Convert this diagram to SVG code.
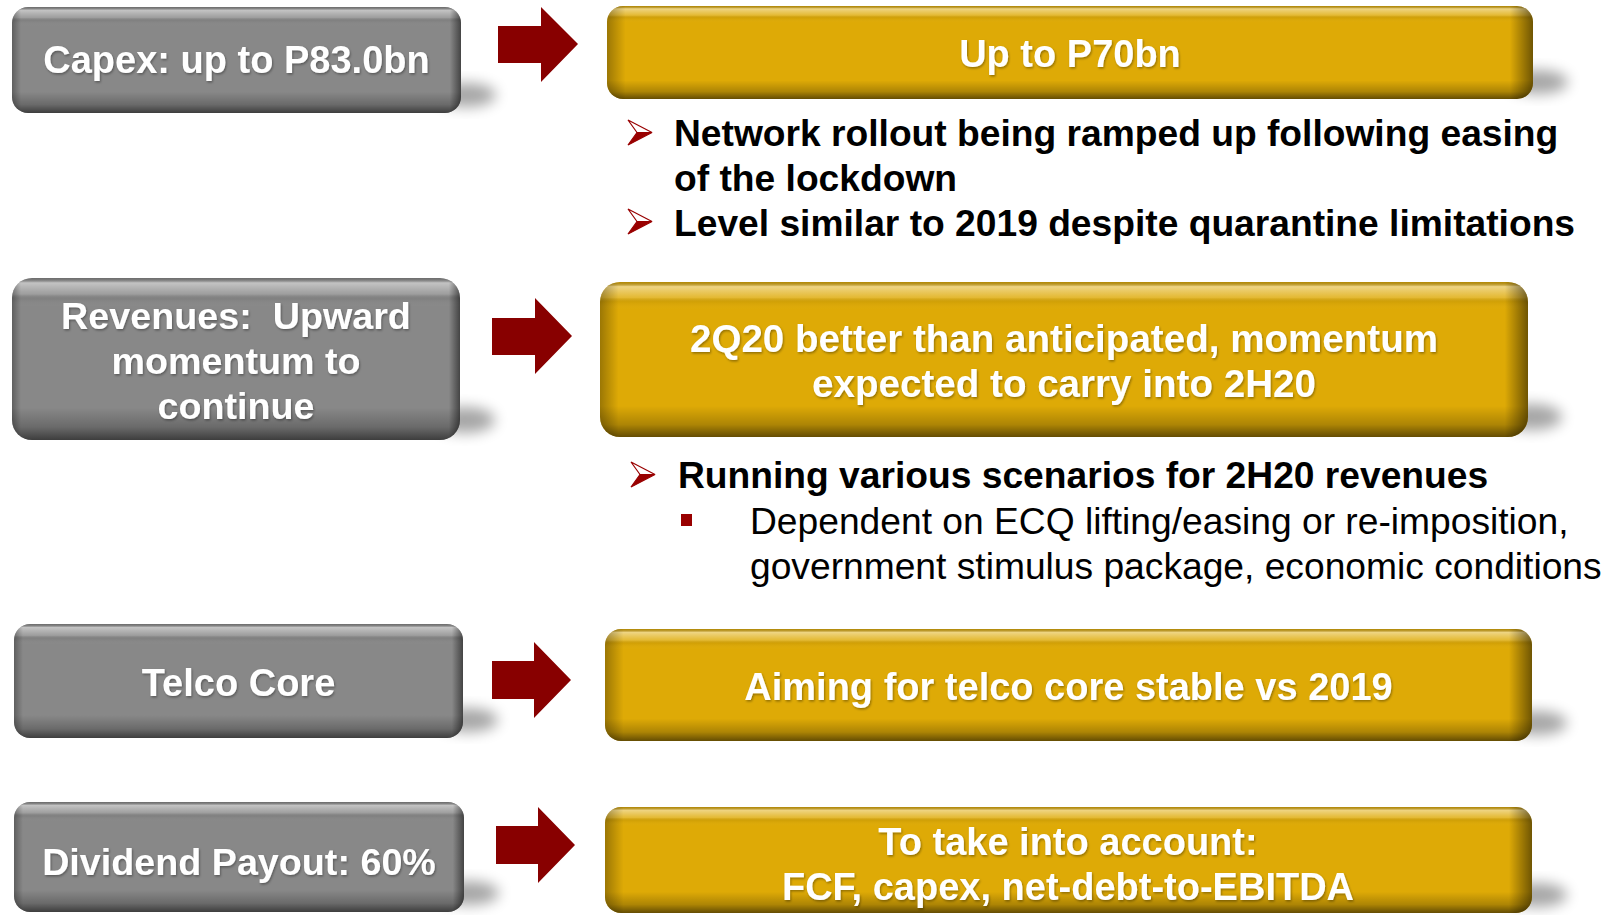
<svg xmlns="http://www.w3.org/2000/svg" width="1608" height="915" viewBox="0 0 1608 915">
<style>
.bx text{font-family:"Liberation Sans",Arial,sans-serif;font-weight:bold;font-size:38px;fill:#fff;text-anchor:middle}
.bx text.big{font-size:38.6px}
.bx text.sm{font-size:37.7px}
.bl{font-family:"Liberation Sans",Arial,sans-serif;font-weight:bold;font-size:37.2px;fill:#000}
.sb{font-family:"Liberation Sans",Arial,sans-serif;font-size:37.2px;fill:#000}
.gray{fill:#888888}
.gold{fill:#DEAA06}
.vbev{fill:url(#vb)}
.hbev{fill:url(#hb)}
.sh{fill:#000;opacity:.35;filter:url(#blur)}
.arr{fill:#880000}
</style>
<defs>
<linearGradient id="vb" x1="0" y1="0" x2="0" y2="1">
<stop offset="0" stop-color="#000" stop-opacity=".18"/>
<stop offset=".03" stop-color="#fff" stop-opacity=".5"/>
<stop offset=".1" stop-color="#fff" stop-opacity=".18"/>
<stop offset=".13" stop-color="#000" stop-opacity=".05"/>
<stop offset=".18" stop-color="#fff" stop-opacity="0"/>
<stop offset=".8" stop-color="#000" stop-opacity="0"/>
<stop offset=".92" stop-color="#000" stop-opacity=".22"/>
<stop offset="1" stop-color="#000" stop-opacity=".55"/>
</linearGradient>
<linearGradient id="hb" x1="0" y1="0" x2="1" y2="0">
<stop offset="0" stop-color="#000" stop-opacity=".3"/>
<stop offset=".02" stop-color="#000" stop-opacity="0"/>
<stop offset=".975" stop-color="#000" stop-opacity="0"/>
<stop offset="1" stop-color="#000" stop-opacity=".5"/>
</linearGradient>
<filter id="blur" x="-50%" y="-50%" width="200%" height="200%"><feGaussianBlur stdDeviation="7"/></filter>
<filter id="ts" x="-5%" y="-20%" width="110%" height="140%"><feDropShadow dx="1" dy="1.5" stdDeviation="1" flood-color="#000" flood-opacity=".35"/></filter>
<g id="barr"><polygon points="0,0 24,12.5 9,12.5" fill="#fff" stroke="#990000" stroke-width="1.2" stroke-linejoin="miter"/><polygon points="9,12.5 24,12.5 0,25" fill="#990000" stroke="#990000" stroke-width="1.2"/></g>
</defs>
<rect width="1608" height="915" fill="#fff"/>

<g id="connectors">
<polygon class="arr" points="498,26 541,26 541,7 578,44 541,82 541,63 498,63"/>
<polygon class="arr" points="492,318 535,318 535,298 572,336 535,374 535,355 492,355"/>
<polygon class="arr" points="492,661 534,661 534,642 571,680 534,718 534,699 492,699"/>
<polygon class="arr" points="496,826 538,826 538,807 575,845 538,883 538,864 496,864"/>
</g>

<g id="capex" class="bx">
<ellipse class="sh" cx="466" cy="95" rx="30" ry="12"/>
<rect class="gray" x="12" y="7" width="449" height="106" rx="16"/>
<rect class="vbev" x="12" y="7" width="449" height="106" rx="16"/>
<rect class="hbev" x="12" y="7" width="449" height="106" rx="16"/>
<text x="236.5" y="73" filter="url(#ts)">Capex: up to P83.0bn</text>
</g>

<g id="capex-target" class="bx">
<ellipse class="sh" cx="1538" cy="82" rx="30" ry="12"/>
<rect class="gold" x="607" y="6" width="926" height="93" rx="16"/>
<rect class="vbev" x="607" y="6" width="926" height="93" rx="16"/>
<rect class="hbev" x="607" y="6" width="926" height="93" rx="16"/>
<text x="1070" y="67" filter="url(#ts)">Up to P70bn</text>
</g>

<g id="capex-notes">
<use href="#barr" x="628" y="120"/>
<text class="bl" x="674" y="146">Network rollout being ramped up following easing</text>
<text class="bl" x="674" y="191">of the lockdown</text>
<use href="#barr" x="628" y="209"/>
<text class="bl" x="674" y="236">Level similar to 2019 despite quarantine limitations</text>
</g>

<g id="revenues" class="bx">
<ellipse class="sh" cx="465" cy="420" rx="30" ry="13"/>
<rect class="gray" x="12" y="278" width="448" height="162" rx="20"/>
<rect class="vbev" x="12" y="278" width="448" height="162" rx="20"/>
<rect class="hbev" x="12" y="278" width="448" height="162" rx="20"/>
<text class="sm" x="236" y="329" filter="url(#ts)" xml:space="preserve">Revenues:  Upward</text>
<text class="sm" x="236" y="374" filter="url(#ts)">momentum to</text>
<text class="sm" x="236" y="419" filter="url(#ts)">continue</text>
</g>

<g id="revenues-target" class="bx">
<ellipse class="sh" cx="1532" cy="417" rx="30" ry="13"/>
<rect class="gold" x="600" y="282" width="928" height="155" rx="20"/>
<rect class="vbev" x="600" y="282" width="928" height="155" rx="20"/>
<rect class="hbev" x="600" y="282" width="928" height="155" rx="20"/>
<text class="big" x="1064" y="352" filter="url(#ts)">2Q20 better than anticipated, momentum</text>
<text class="big" x="1064" y="397" filter="url(#ts)">expected to carry into 2H20</text>
</g>

<g id="revenues-notes">
<use href="#barr" x="631" y="462"/>
<text class="bl" x="678" y="488">Running various scenarios for 2H20 revenues</text>
<rect x="681" y="514" width="11" height="12" fill="#990000"/>
<text class="sb" x="750" y="534">Dependent on ECQ lifting/easing or re-imposition,</text>
<text class="sb" x="750" y="579">government stimulus package, economic conditions</text>
</g>

<g id="telco" class="bx">
<ellipse class="sh" cx="468" cy="720" rx="30" ry="12"/>
<rect class="gray" x="14" y="624" width="449" height="114" rx="16"/>
<rect class="vbev" x="14" y="624" width="449" height="114" rx="16"/>
<rect class="hbev" x="14" y="624" width="449" height="114" rx="16"/>
<text x="238.5" y="696" filter="url(#ts)">Telco Core</text>
</g>

<g id="telco-target" class="bx">
<ellipse class="sh" cx="1537" cy="723" rx="30" ry="12"/>
<rect class="gold" x="605" y="629" width="927" height="112" rx="16"/>
<rect class="vbev" x="605" y="629" width="927" height="112" rx="16"/>
<rect class="hbev" x="605" y="629" width="927" height="112" rx="16"/>
<text x="1068.5" y="700" filter="url(#ts)">Aiming for telco core stable vs 2019</text>
</g>

<g id="dividend" class="bx">
<ellipse class="sh" cx="469" cy="893" rx="30" ry="12"/>
<rect class="gray" x="14" y="802" width="450" height="110" rx="16"/>
<rect class="vbev" x="14" y="802" width="450" height="110" rx="16"/>
<rect class="hbev" x="14" y="802" width="450" height="110" rx="16"/>
<text class="sm" x="239" y="875" filter="url(#ts)">Dividend Payout: 60%</text>
</g>

<g id="dividend-target" class="bx">
<ellipse class="sh" cx="1537" cy="895" rx="30" ry="12"/>
<rect class="gold" x="605" y="807" width="927" height="106" rx="16"/>
<rect class="vbev" x="605" y="807" width="927" height="106" rx="16"/>
<rect class="hbev" x="605" y="807" width="927" height="106" rx="16"/>
<text x="1068" y="855" filter="url(#ts)">To take into account:</text>
<text x="1068" y="900" filter="url(#ts)">FCF, capex, net-debt-to-EBITDA</text>
</g>
</svg>
